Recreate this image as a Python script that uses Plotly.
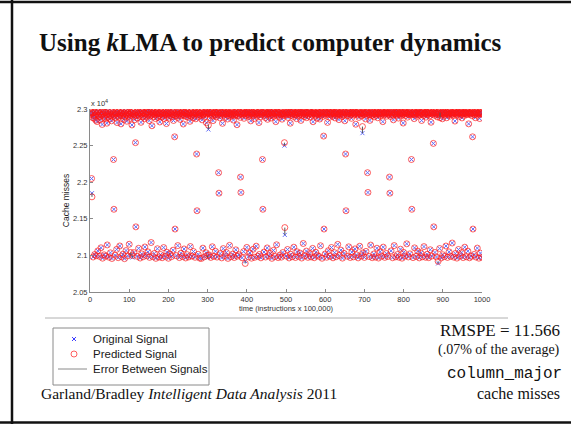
import plotly.graph_objects as go

# ---------------- data (cache misses) ----------------
orig_misses = [
    22934, 22921, 22958, 22050, 21850, 22946, 22880, 20978, 22952, 22905, 22873, 21012, 22961, 22918, 22847, 20996, 22937, 22829, 22962, 21061,
    22911, 22968, 22896, 20987, 22944, 22852, 22927, 21104, 22960, 22913, 22789, 20962, 22931, 22957, 22884, 21008, 22902, 22949, 22869, 20991,
    22955, 22918, 22806, 21143, 22940, 22973, 22891, 20976, 22925, 22862, 22947, 21035, 22909, 22966, 22838, 20958, 22929, 22895, 22951, 22310,
    21630, 22919, 22941, 21002, 22877, 22958, 22930, 21083, 22815, 22946, 22903, 20969, 22962, 22888, 22935, 21129, 22914, 22952, 22797, 20984,
    22943, 22906, 22967, 21017, 22926, 22859, 22948, 20955, 22891, 22937, 22970, 21066, 22918, 22833, 22944, 20993, 22957, 22901, 22928, 21152,
    22932, 22871, 22955, 21005, 22916, 22949, 22782, 20971, 22938, 22964, 22897, 21038, 22925, 22854, 22946, 22540, 21390, 22912, 22959, 20988,
    22879, 22942, 22921, 21097, 22960, 22905, 22936, 20964, 22950, 22818, 22929, 21021, 22967, 22893, 22945, 20982, 22908, 22953, 22866, 21115,
    22940, 22925, 22961, 20999, 22887, 22947, 22914, 21048, 22956, 22990, 22842, 20973, 22931, 22906, 22958, 21176, 22920, 22771, 22944, 20985,
    22963, 22897, 22935, 21026, 22918, 22951, 22869, 20960, 22947, 22928, 22962, 21091, 22884, 22941, 22909, 20977, 22955, 22823, 22937, 21012,
    22926, 22964, 22890, 20968, 22949, 22912, 22943, 21107, 22871, 22958, 22930, 20990, 22917, 22946, 22801, 21044, 22959, 22902, 22933, 20961,
    22944, 22875, 22962, 21019, 22913, 22938, 22952, 20983, 22891, 22926, 22966, 21071, 22843, 22949, 22919, 22620, 21360, 22935, 22908, 20997,
    22958, 22931, 22886, 21134, 22947, 22964, 22915, 20970, 22932, 22858, 22949, 21029, 22906, 22940, 22961, 20986, 22924, 22795, 22953, 21088,
    22911, 22956, 22939, 20965, 22898, 22944, 22925, 21010, 22960, 22887, 22934, 20979, 22948, 22917, 22832, 21121, 22939, 22962, 22903, 20992,
    22927, 22950, 22876, 21053, 22942, 22913, 22958, 20974, 22935, 22866, 22951, 22385, 21610, 22946, 22921, 21015, 22957, 22894, 22932, 20963,
    22948, 22909, 22940, 20958, 22963, 22852, 22926, 21099, 22915, 22954, 22937, 20981, 22890, 22945, 22961, 21036, 22812, 22930, 22952, 20969,
    22938, 22720, 22957, 21006, 22924, 22947, 22881, 20972, 22951, 22929, 22963, 21118, 22905, 22841, 22943, 20988, 22934, 22959, 22916, 21057,
    22955, 22893, 22936, 20977, 22949, 22920, 22964, 22130, 21850, 22941, 22879, 21024, 22958, 22912, 22946, 20966, 22931, 22804, 22953, 21093,
    22917, 22944, 22962, 20995, 22888, 22935, 22951, 21041, 22928, 22958, 22863, 20959, 22946, 22910, 22939, 21137, 22952, 22926, 22897, 20984,
    22940, 22961, 22914, 21018, 22933, 22849, 22955, 20971, 22905, 22947, 22930, 21076, 22959, 22922, 22785, 20990, 22944, 22908, 22956, 21008,
    22929, 22957, 22886, 22070, 21860, 22937, 22950, 20968, 22918, 22962, 22941, 21052, 22873, 22933, 22948, 20920, 22956, 22909, 22935, 21109,
    22951, 22924, 22960, 20981, 22897, 22943, 22916, 21033, 22958, 22838, 22939, 20962, 22947, 22925, 22957, 21084, 22911, 22948, 22870, 20974,
    22936, 22962, 22921, 21126, 22944, 22903, 22953, 20989, 22928, 22950, 22815, 21013, 22961, 22932, 22894, 20967, 22945, 22920, 22958, 22310,
    21630, 22939, 22952, 21046, 22913, 22964, 22884, 20978, 22948, 22927, 22943, 21102, 22859, 22955, 22930, 20993, 22940, 22961, 22906, 21027,
    22957, 22877, 22946, 20960, 22934, 22919, 22962, 21068, 22902, 22949, 22938, 20985, 22953, 22827, 22925, 21145, 22947, 22931, 22959, 20970,
    22915, 22954, 22892, 21004, 22941, 22963, 22918, 20976, 22936, 22861, 22950, 21039, 22928, 22945, 22908, 22500, 21280, 22957, 22933, 20992,
    22949, 22920, 22961, 21081, 22885, 22937, 22952, 20965, 22924, 22958, 22806, 21016, 22943, 22911, 22955, 20983, 22932, 22962, 22897, 21112,
    22940, 22926, 22953, 20971, 22917, 22946, 22868, 21050, 22960, 22935, 22948, 20988, 22903, 22957, 22929, 21031, 22951, 22844, 22939, 20964,
    22956, 22912, 22944, 21163, 22931, 22962, 22895, 20996, 22947, 22923, 22958, 21059, 22881, 22940, 22952, 20973, 22918, 22965, 22934, 21022,
    22961, 22890, 22936, 20979, 22953, 22919, 22947, 21096, 22826, 22942, 22960, 20968, 22925, 22950, 22909, 21043, 22946, 22932, 22874, 21001,
    22939, 22957, 22921, 20986, 22948, 22863, 22955, 21132, 22913, 22944, 22962, 20961, 22930, 22898, 22951, 22630, 21360, 22936, 22959, 21020,
    22914, 22945, 22958, 20975, 22932, 22817, 22949, 21064, 22960, 22926, 22887, 20990, 22943, 22955, 22920, 21108, 22938, 22961, 22903, 20967,
    22952, 22929, 22945, 21037, 22878, 22957, 22934, 20982, 22947, 22911, 22962, 21151, 22924, 22940, 22855, 20998, 22956, 22937, 22919, 21072,
    22943, 22962, 22896, 20963, 22931, 22950, 22917, 21028, 22959, 22839, 22946, 22385, 21610, 22928, 22954, 20989, 22910, 22941, 22963, 21117,
    22935, 22904, 22952, 20971, 22947, 22926, 22873, 21045, 22958, 22938, 22949, 20980, 22915, 22960, 22929, 21089, 22942, 22792, 22955, 21007,
    22950, 22933, 22918, 20966, 22961, 22885, 22944, 21125, 22927, 22953, 22939, 20994, 22906, 22948, 22670, 21034, 22957, 22922, 22941, 20972,
    22929, 22956, 22864, 21055, 22946, 22914, 22959, 22130, 21860, 22937, 22951, 20985, 22920, 22845, 22943, 21141, 22958, 22932, 22908, 20969,
    22947, 22961, 22925, 21019, 22893, 22940, 22953, 20977, 22934, 22916, 22962, 21098, 22951, 22880, 22936, 20964, 22945, 22957, 22921, 21049,
    22938, 22909, 22950, 20991, 22962, 22931, 22827, 21113, 22944, 22955, 22918, 20973, 22948, 22935, 22960, 21026, 22902, 22946, 22933, 20986,
    22955, 22924, 22941, 22070, 21850, 22958, 22897, 21062, 22930, 22947, 22962, 20968, 22915, 22852, 22949, 21134, 22937, 22960, 22926, 20980,
    22944, 22913, 22956, 21011, 22929, 22963, 22876, 20975, 22950, 22938, 22921, 21085, 22959, 22905, 22945, 20962, 22932, 22954, 22808, 21042,
    22927, 22948, 22961, 20993, 22911, 22939, 22953, 21158, 22946, 22889, 22930, 20979, 22957, 22922, 22944, 21021, 22963, 22935, 22917, 22310,
    21630, 22952, 22940, 20970, 22925, 22959, 22868, 21103, 22943, 22916, 22955, 20987, 22934, 22948, 22901, 21059, 22960, 22929, 22946, 20966,
    22918, 22957, 22936, 21033, 22950, 22843, 22945, 20982, 22961, 22927, 22911, 21120, 22942, 22955, 22932, 20974, 22889, 22949, 22958, 21016,
    22940, 22921, 22953, 20969, 22935, 22962, 22907, 21077, 22946, 22819, 22938, 20991, 22956, 22928, 22950, 22530, 21390, 22943, 22914, 21040,
    22959, 22936, 22948, 20978, 22924, 22892, 22955, 20890, 22941, 22962, 22930, 21094, 22951, 22911, 22945, 20965, 22937, 22958, 22866, 21009,
    22948, 22925, 22960, 20985, 22913, 22944, 22939, 21128, 22956, 22880, 22951, 20972, 22932, 22947, 22920, 21048, 22961, 22935, 22904, 20988,
    22943, 22957, 22929, 21169, 22950, 22916, 22946, 20976, 22938, 22962, 22835, 21026, 22954, 22931, 22948, 20963, 22919, 22945, 22958, 21081,
    22936, 22901, 22952, 20994, 22947, 22963, 22926, 21037, 22878, 22940, 22955, 20970, 22931, 22949, 22912, 21112, 22957, 22938, 22944, 20981,
    22921, 22950, 22962, 21058, 22934, 22797, 22946, 20967, 22953, 22927, 22940, 20989, 22958, 22909, 22944, 22620, 21360, 22931, 22956, 21013,
    22947, 22924, 22881, 20978, 22960, 22938, 22951, 21100, 22915, 22945, 22932, 20962, 22957, 22870, 22949, 21031, 22936, 22953, 22928, 20975,
]
time_steps = list(range(1, len(orig_misses) + 1))

# predicted signal equals the original except at these time steps
pred_diff_time = [5, 104, 108, 300, 302, 396, 496, 497, 695, 888, 893]
pred_diff_value = [21800, 21040, 21000, 21000, 22780, 20890, 22540, 21380, 22760, 20920, 22880]

x_ticks = [0, 100, 200, 300, 400, 500, 600, 700, 800, 900, 1000]
y_ticks = [20500, 21000, 21500, 22000, 22500, 23000]
y_tick_labels = ["2.05", "2.1", "2.15", "2.2", "2.25", "2.3"]

title_parts = ("Using ", "k", "LMA to predict computer dynamics")
legend_labels = ["Original Signal", "Predicted Signal", "Error Between Signals"]

# ---------------- derived ----------------
pred_misses = list(orig_misses)
for t, v in zip(pred_diff_time, pred_diff_value):
    if 1 <= t <= len(pred_misses):
        pred_misses[t - 1] = v

err_x, err_y = [], []
for t, o, p in zip(time_steps, orig_misses, pred_misses):
    if o != p:
        err_x += [t, t, None]
        err_y += [o, p, None]

# ---------------- figure ----------------
W, H = 571, 424
L, R, T, B = 90, 89, 109, 132
PW, PH = W - L - R, H - T - B

BLUE = "rgba(40,40,255,0.9)"
RED = "rgba(255,20,20,0.75)"
GRAY = "#8a8a8a"


def px(x):
    return (x - L) / PW


def py(y):
    return (H - B - y) / PH


SERIF = "Liberation Serif, Times New Roman, serif"
SANS = "Liberation Sans, Arial, Helvetica, sans-serif"
MONO = "Courier New, Liberation Mono, monospace"

fig = go.Figure()
fig.add_trace(go.Scatter(
    x=time_steps, y=orig_misses, mode="markers", name=legend_labels[0],
    marker=dict(symbol="x-thin-open", size=4, line=dict(color=BLUE, width=1)),
))
fig.add_trace(go.Scatter(
    x=time_steps, y=pred_misses, mode="markers", name=legend_labels[1],
    marker=dict(symbol="circle-open", size=6, color=RED, line=dict(color=RED, width=0.9)),
))
fig.add_trace(go.Scatter(
    x=err_x, y=err_y, mode="lines", name=legend_labels[2],
    line=dict(color="#555555", width=1), connectgaps=False,
))

axis_common = dict(
    showgrid=False, zeroline=False, showline=True, linecolor=GRAY, linewidth=1,
    ticks="inside", ticklen=3, tickcolor=GRAY, tickwidth=1,
    tickfont=dict(family=SANS, size=7.5, color="#333333"), mirror=False,
)
fig.update_xaxes(range=[0, 1000], tickmode="array", tickvals=x_ticks,
                 ticktext=[str(v) for v in x_ticks],
                 title=dict(text="time (instructions x 100,000)", standoff=1,
                            font=dict(family=SANS, size=7.5, color="#333333")),
                 **axis_common)
fig.update_yaxes(range=[20500, 23000], tickmode="array", tickvals=y_ticks,
                 ticktext=y_tick_labels,
                 title=dict(text="Cache misses", standoff=1,
                            font=dict(family=SANS, size=8.5, color="#222222")),
                 **axis_common)


def pline(x0, y0, x1, y1, color, width):
    return dict(type="line", xref="paper", yref="paper", x0=px(x0), y0=py(y0),
                x1=px(x1), y1=py(y1), line=dict(color=color, width=width))


shapes = []
# slide frame (top, left, bottom)
for x0, y0, x1, y1 in [(0, 2, W, 2), (12, 0, 12, H), (0, 422.5, W, 422.5)]:
    shapes.append(pline(x0, y0, x1, y1, "#111111", 2.5))
# separator
shapes.append(pline(45, 318, 508, 318, "#b0b0b0", 1))
# legend box
shapes.append(dict(type="rect", xref="paper", yref="paper", x0=px(53), x1=px(209),
                   y0=py(385), y1=py(328), line=dict(color=GRAY, width=1), fillcolor="white"))
legend_rows = [339, 354, 369]
# legend keys: x marker, o marker, line
shapes.append(pline(72, legend_rows[0] - 2, 76, legend_rows[0] + 2, BLUE, 1))
shapes.append(pline(72, legend_rows[0] + 2, 76, legend_rows[0] - 2, BLUE, 1))
shapes.append(dict(type="circle", xref="paper", yref="paper",
                   x0=px(71), x1=px(77), y0=py(legend_rows[1] + 3), y1=py(legend_rows[1] - 3),
                   line=dict(color=RED, width=0.9)))
shapes.append(pline(58, legend_rows[2], 87, legend_rows[2], GRAY, 1))

ann = []


def text(x, y, s, size, family, xanchor="left", color="#111111"):
    ann.append(dict(x=px(x), y=py(y), xref="paper", yref="paper", text=s, showarrow=False,
                    xanchor=xanchor, yanchor="middle",
                    font=dict(family=family, size=size, color=color)))


text(89, 103.5, "x 10", 7.5, SANS, color="#333333")
text(103, 100.5, "4", 5.5, SANS, color="#333333")
for r, lab in zip(legend_rows, legend_labels):
    text(91, r, lab, 11.5, SANS, color="#1a1a1a")

text(562, 330, "RMSPE = 11.566", 17, SERIF, xanchor="right")
text(562, 350, "(.07% of the average)", 14, SERIF, xanchor="right")
text(564, 374, "column_major", 16, MONO, xanchor="right")
text(562, 393, "cache misses", 16, SERIF, xanchor="right")
text(39, 393, "Garland/Bradley <i>Intelligent Data Analysis</i> 2011", 15.5, SERIF)

fig.update_layout(
    width=W, height=H, margin=dict(l=L, r=R, t=T, b=B, pad=0),
    paper_bgcolor="white", plot_bgcolor="white", showlegend=False,
    title=dict(text="<b>" + title_parts[0] + "<i>" + title_parts[1] + "</i>" + title_parts[2] + "</b>",
               x=39 / W, xref="container", xanchor="left",
               y=1 - 42 / H, yref="container", yanchor="middle",
               font=dict(family=SERIF, size=25, color="#111111")),
    shapes=shapes, annotations=ann,
)

fig.write_html("out.html")
